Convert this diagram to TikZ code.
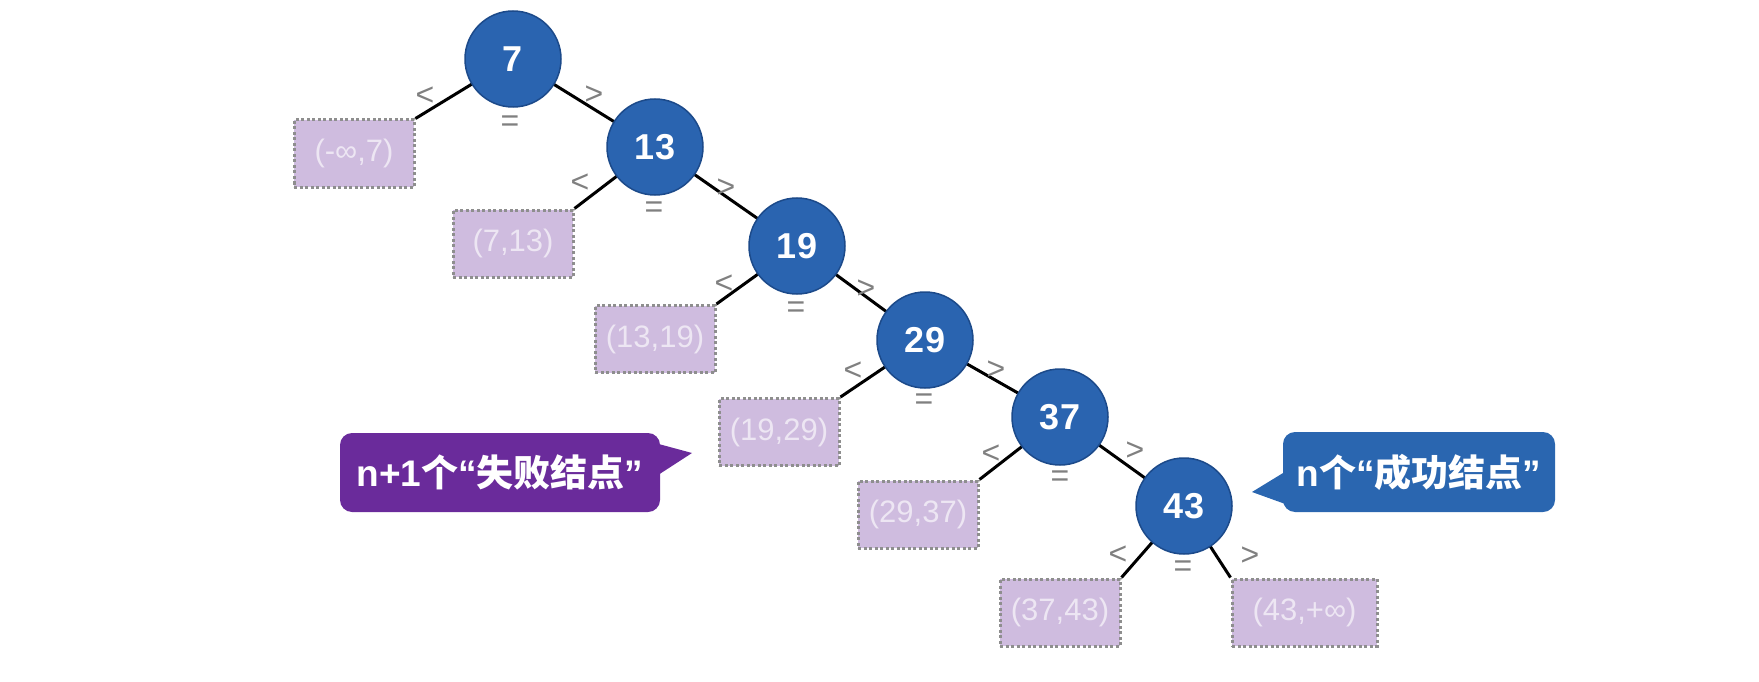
\documentclass[tikz,border=0pt]{standalone}
\usepackage{fontspec}
\setmainfont{Liberation Sans}
\newfontfamily\cjkfont{Noto Sans CJK SC}
\definecolor{nodeblue}{HTML}{2A64B0}
\definecolor{nodeborder}{HTML}{1C4A8A}
\definecolor{boxfill}{HTML}{CFBCDF}
\definecolor{boxtext}{HTML}{EDE6F3}
\definecolor{boxborder}{HTML}{8E8E8E}
\definecolor{purp}{HTML}{6A2B9B}
\definecolor{calloutblue}{HTML}{2A66B0}
\definecolor{labgray}{HTML}{808080}
\newcommand{\cj}[1]{{\cjkfont\bfseries #1}}
\begin{document}
\begin{tikzpicture}[x=1pt,y=-1pt,
  keynode/.style={circle, fill=nodeblue, draw=nodeborder, line width=1.5pt, minimum size=96pt, inner sep=0pt, text=white, font=\fontsize{36}{42}\selectfont\bfseries},
  failbox/.style={rectangle, fill=boxfill, draw=boxborder, line width=3pt, dash pattern=on 3pt off 2.5pt, minimum width=120pt, minimum height=67pt, inner sep=0pt, text=boxtext, font=\fontsize{31}{36}\selectfont},
  cmp/.style={text=labgray, font=\fontsize{32}{36}\selectfont, inner sep=0pt},
  edgeline/.style={line width=3pt, black},
  callout/.style={rectangle, rounded corners=12pt, inner sep=0pt, text=white, font=\bfseries\fontsize{37}{42}\selectfont},
]
\useasboundingbox (0,0) rectangle (1759,682);
\coordinate (p7) at (513,59);
\coordinate (p13) at (655,147);
\coordinate (p19) at (797,246);
\coordinate (p29) at (925,340);
\coordinate (p37) at (1060,417);
\coordinate (p43) at (1184,506);

\node[failbox] (b1) at (354,153.5) {(-∞,7)};
\node[failbox] (b2) at (513,243.5) {(7,13)};
\node[failbox] (b3) at (655,339) {(13,19)};
\node[failbox] (b4) at (779,432) {(19,29)};
\node[failbox] (b5) at (918,514.5) {(29,37)};
\node[failbox] (b6) at (1060,612.5) {(37,43)};
\node[failbox, minimum width=145pt] (b7) at (1304.5,612.5) {(43,+∞)};

\draw[edgeline] (p7) -- (b1.north east);
\draw[edgeline] (p7) -- (p13);
\draw[edgeline] (p13) -- (b2.north east);
\draw[edgeline] (p13) -- (p19);
\draw[edgeline] (p19) -- (b3.north east);
\draw[edgeline] (p19) -- (p29);
\draw[edgeline] (p29) -- (b4.north east);
\draw[edgeline] (p29) -- (p37);
\draw[edgeline] (p37) -- (b5.north east);
\draw[edgeline] (p37) -- (p43);
\draw[edgeline] (p43) -- (b6.north east);
\draw[edgeline] (p43) -- (b7.north west);

\node[keynode] (n7) at (p7) {7};
\node[keynode] (n13) at (p13) {13};
\node[keynode] (n19) at (p19) {19};
\node[keynode] (n29) at (p29) {29};
\node[keynode] (n37) at (p37) {37};
\node[keynode] (n43) at (p43) {43};

% comparison labels
\node[cmp] (l7) at (425,96) {<};
\node[cmp] (g7) at (594,95) {>};
\node[cmp] (e7) at (510,124) {=};
\node[cmp] (l13) at (580,183) {<};
\node[cmp] (g13) at (726,188) {>};
\node[cmp] (e13) at (654,210) {=};
\node[cmp] (l19) at (724,284) {<};
\node[cmp] (g19) at (866,289) {>};
\node[cmp] (e19) at (796,310) {=};
\node[cmp] (l29) at (853,371) {<};
\node[cmp] (g29) at (996,370) {>};
\node[cmp] (e29) at (924,402) {=};
\node[cmp] (l37) at (991,454) {<};
\node[cmp] (g37) at (1135,451) {>};
\node[cmp] (e37) at (1060,479) {=};
\node[cmp] (l43) at (1118,555) {<};
\node[cmp] (g43) at (1250,556) {>};
\node[cmp] (e43) at (1183,569) {=};

% callouts
\node[callout, fill=purp, minimum width=320pt, minimum height=79pt] (fail) at (500,472.5) {n+1\cj{个}“\cj{失败结点}”};
\coordinate (failtip) at (692,453);
\fill[purp] (655,443) -- (failtip) -- (655,477) -- cycle;

\node[callout, fill=calloutblue, minimum width=272pt, minimum height=80pt] (succ) at (1419,472) {n\cj{个}“\cj{成功结点}”};
\coordinate (succtip) at (1252,492);
\fill[calloutblue] (1288,470) -- (succtip) -- (1288,505) -- cycle;
\end{tikzpicture}
\end{document}
